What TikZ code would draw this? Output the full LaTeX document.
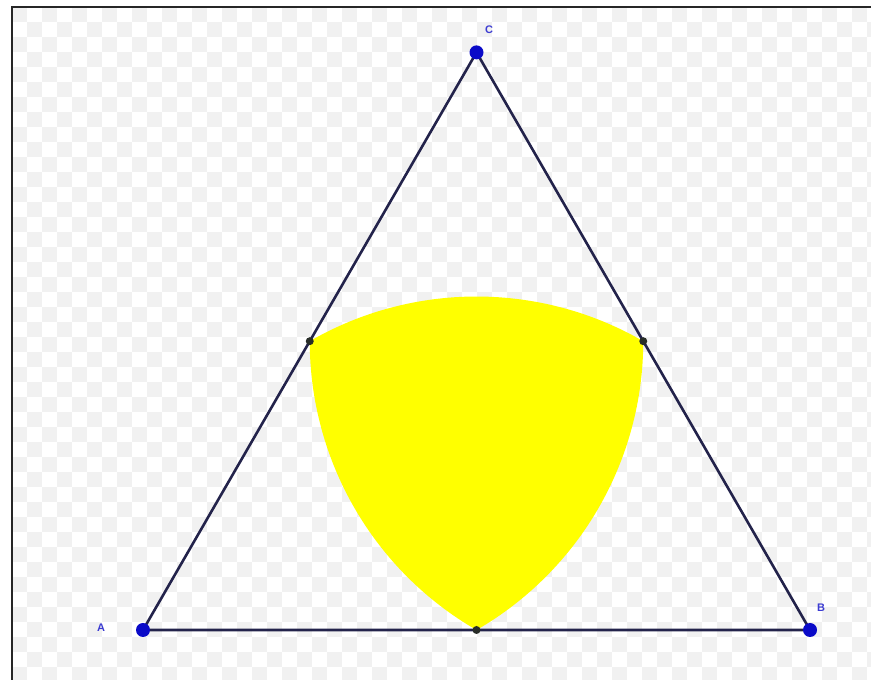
\documentclass[tikz,border=0pt]{standalone}
\usepackage{fontspec}
\setmainfont{Liberation Sans}
\usetikzlibrary{calc}
\definecolor{edgecol}{RGB}{35,35,75}
\definecolor{ptblue}{RGB}{10,10,200}
\definecolor{lblblue}{RGB}{60,60,210}
\definecolor{midcol}{RGB}{40,45,40}
\definecolor{checkcol}{RGB}{241,241,241}
\definecolor{fillyellow}{RGB}{255,255,0}
\tikzset{
  side/.style={draw=edgecol, line width=2.6pt},
  vertexpt/.style={circle, fill=ptblue, inner sep=0pt, minimum size=14pt},
  midpt/.style={circle, fill=midcol, inner sep=0pt, minimum size=8pt},
  ptlabel/.style={text=lblblue, font=\fontsize{11}{13}\selectfont\bfseries, inner sep=0pt},
  frameline/.style={draw=black!85, line width=2.5pt}
}
\begin{document}
\begin{tikzpicture}[x=1pt,y=1pt]
\useasboundingbox (0,0) rectangle (871,680);
\fill[white] (0,0) rectangle (871,680);
% checkerboard background inside frame
\begin{scope}
\clip (12,0) rectangle (871,673);
\foreach \i in {0,...,29}{
  \foreach \j in {0,...,23}{
    \fill[checkcol] ({12+30*\i},{673-30*\j-15}) rectangle ++(15,15);
    \fill[checkcol] ({12+30*\i+15},{673-30*\j-30}) rectangle ++(15,15);
  }
}
\end{scope}
% frame
\draw[frameline] (12,-5) -- (12,673) -- (880,673);
% points
\coordinate (A) at (143,50);
\coordinate (B) at (810,50);
\coordinate (C) at (476.5,627.6);
\coordinate (MAB) at ($(A)!0.5!(B)$);
\coordinate (MBC) at ($(B)!0.5!(C)$);
\coordinate (MAC) at ($(A)!0.5!(C)$);
% Reuleaux region
\fill[fillyellow] (MAC) arc[start angle=120, end angle=60, radius=333.5]
  arc[start angle=0, end angle=-60, radius=333.5]
  arc[start angle=240, end angle=180, radius=333.5] -- cycle;
% triangle sides
\draw[side] (A) -- (B) -- (C) -- cycle;
% nodes
\node[vertexpt] (nA) at (A) {};
\node[vertexpt] (nB) at (B) {};
\node[vertexpt] (nC) at (C) {};
\node[midpt] (nMAB) at (MAB) {};
\node[midpt] (nMBC) at (MBC) {};
\node[midpt] (nMAC) at (MAC) {};
\node[ptlabel] (lA) at (101,52) {A};
\node[ptlabel] (lB) at (821,72) {B};
\node[ptlabel] (lC) at (489,650) {C};
\end{tikzpicture}
\end{document}
